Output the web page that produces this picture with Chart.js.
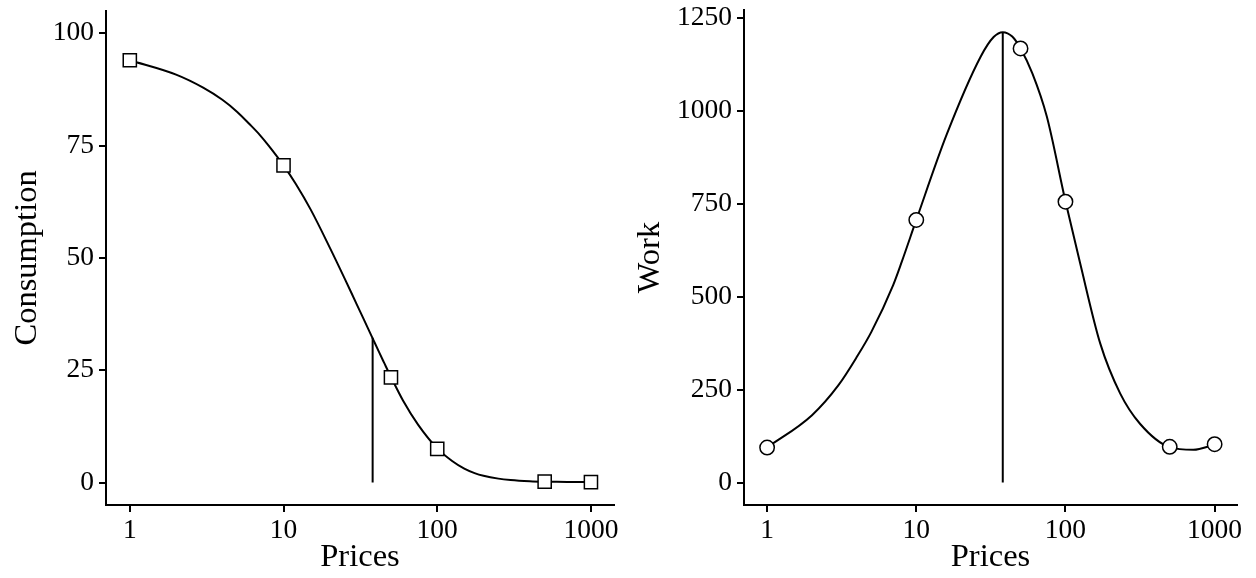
<!DOCTYPE html>
<html>
<head>
<meta charset="utf-8">
<script src="https://cdn.jsdelivr.net/npm/chart.js@4"></script>
<style>
  html, body { margin: 0; padding: 0; background: #fff; }
  #wrap { position: relative; width: 1256px; height: 578px; }
  canvas { position: absolute; top: 0; }
  #c1 { left: 0; }
  #c2 { left: 628px; }
</style>
</head>
<body>
<div id="wrap">
  <canvas id="c1" width="628" height="578"></canvas>
  <canvas id="c2" width="628" height="578"></canvas>
</div>
<script>
// ---- data ----
const prices = [1, 10, 50, 100, 500, 1000];
const consumption = [94, 70.6, 23.4, 7.5, 0.2, 0.1];
const work = [94, 706, 1167, 755, 96, 103];

// fitted demand curve (left panel)
const consumptionCurvePrices = [1, 2, 3, 4, 5, 6, 7, 8, 10, 12, 15, 20, 25, 30, 33, 38, 42, 45, 50, 60, 75, 100, 125, 150, 175, 200, 250, 300, 400, 500, 600, 700, 800, 1000];
const consumptionCurve = [94, 90.8, 87.9, 85.2, 82.5, 79.8, 77.4, 75.0, 70.6, 66.5, 60.8, 52.3, 45.4, 39.6, 36.6, 32.1, 28.9, 26.75, 23.5, 18.2, 12.9, 7.6, 4.8, 3.1, 2.1, 1.5, 0.87, 0.57, 0.30, 0.19, 0.148, 0.125, 0.111, 0.102];

// work curve (right panel)
const workCurvePrices = [1, 2, 3, 4, 5, 7, 8, 10, 16, 27, 33, 38, 44, 50, 60, 75, 100, 125, 171, 233, 316, 500, 720, 1000];
const workCurve = [94, 181, 261, 338, 405, 531, 594, 706, 936, 1145, 1198, 1211, 1199, 1167, 1100, 984, 756, 592, 374, 239, 158, 95, 88, 102];

const pmax = 38;
const consumptionAtPmax = 32.2;
const workAtPmax = 1211;

const xTicks = [1, 10, 100, 1000];
const consumptionTicks = [0, 25, 50, 75, 100];
const workTicks = [0, 250, 500, 750, 1000, 1250];

// ---- styling ----
const FONT = "'Liberation Serif', 'Times New Roman', serif";
const xMin = Math.pow(10, -0.15), xMax = Math.pow(10, 3.15);

function toXY(xs, ys) { return xs.map((x, i) => ({ x: x, y: ys[i] })); }

function makeChart(id, cfg) {
  const axisCommon = {
    border: { display: true, color: '#000', width: 2 },
    grid: { display: true, drawOnChartArea: false, drawTicks: true, tickLength: 7, color: '#000', lineWidth: 2 },
  };
  return new Chart(document.getElementById(id), {
    type: 'line',
    data: {
      datasets: [
        {
          data: toXY(prices, cfg.points),
          showLine: false,
          pointStyle: cfg.pointStyle,
          pointRadius: cfg.pointRadius,
          pointBorderWidth: 1.5,
          pointBorderColor: '#000',
          pointBackgroundColor: '#fff',
          pointHoverRadius: cfg.pointRadius,
        },
        {
          data: toXY([pmax, pmax], [0, cfg.peak]),
          borderColor: '#000',
          borderWidth: 2,
          pointRadius: 0,
          tension: 0,
        },
        {
          data: toXY(cfg.curveX, cfg.curve),
          borderColor: '#000',
          borderWidth: 2,
          pointRadius: 0,
          cubicInterpolationMode: 'monotone',
        },
      ]
    },
    options: {
      responsive: false,
      animation: false,
      devicePixelRatio: 1,
      layout: { padding: { top: 10, right: cfg.padRight, left: 0, bottom: 0 } },
      plugins: { legend: { display: false }, tooltip: { enabled: false } },
      scales: {
        x: Object.assign({}, axisCommon, {
          type: 'logarithmic',
          min: xMin, max: xMax,
          afterBuildTicks: s => { s.ticks = xTicks.map(v => ({ value: v })); },
          afterFit: s => { s.height = 73; s.paddingLeft = 0; s.paddingRight = 0; },
          ticks: { color: '#000', font: { family: FONT, size: 27.5 }, padding: 2, maxRotation: 0, autoSkip: false,
                   callback: v => String(v) },
          title: { display: true, text: 'Prices', color: '#000', font: { family: FONT, size: 32.5 }, padding: { top: 0, bottom: 1 } },
        }),
        y: Object.assign({}, axisCommon, {
          type: 'linear',
          min: cfg.yMin, max: cfg.yMax,
          afterBuildTicks: s => { s.ticks = cfg.yTicks.map(v => ({ value: v })); },
          afterFit: s => { s.width = cfg.yWidth; s.paddingTop = 0; s.paddingBottom = 0; },
          ticks: { color: '#000', font: { family: FONT, size: 27.5 }, padding: 5, callback: v => String(v) },
          title: { display: true, text: cfg.yTitle, color: '#000', font: { family: FONT, size: 32.5 }, padding: { top: cfg.titlePad, bottom: 0 } },
        }),
      }
    }
  });
}

makeChart('c1', {
  points: consumption, curveX: consumptionCurvePrices, curve: consumptionCurve, peak: consumptionAtPmax,
  pointStyle: 'rect', pointRadius: 9.3,
  yMin: -5, yMax: 105, yTicks: consumptionTicks, yWidth: 106, padRight: 14,
  yTitle: 'Consumption', titlePad: 8,
});
makeChart('c2', {
  points: work, curveX: workCurvePrices, curve: workCurve, peak: workAtPmax,
  pointStyle: 'circle', pointRadius: 7.2,
  yMin: -60.5, yMax: 1270.5, yTicks: workTicks, yWidth: 116, padRight: 19,
  yTitle: 'Work', titlePad: 3,
});
</script>
</body>
</html>
